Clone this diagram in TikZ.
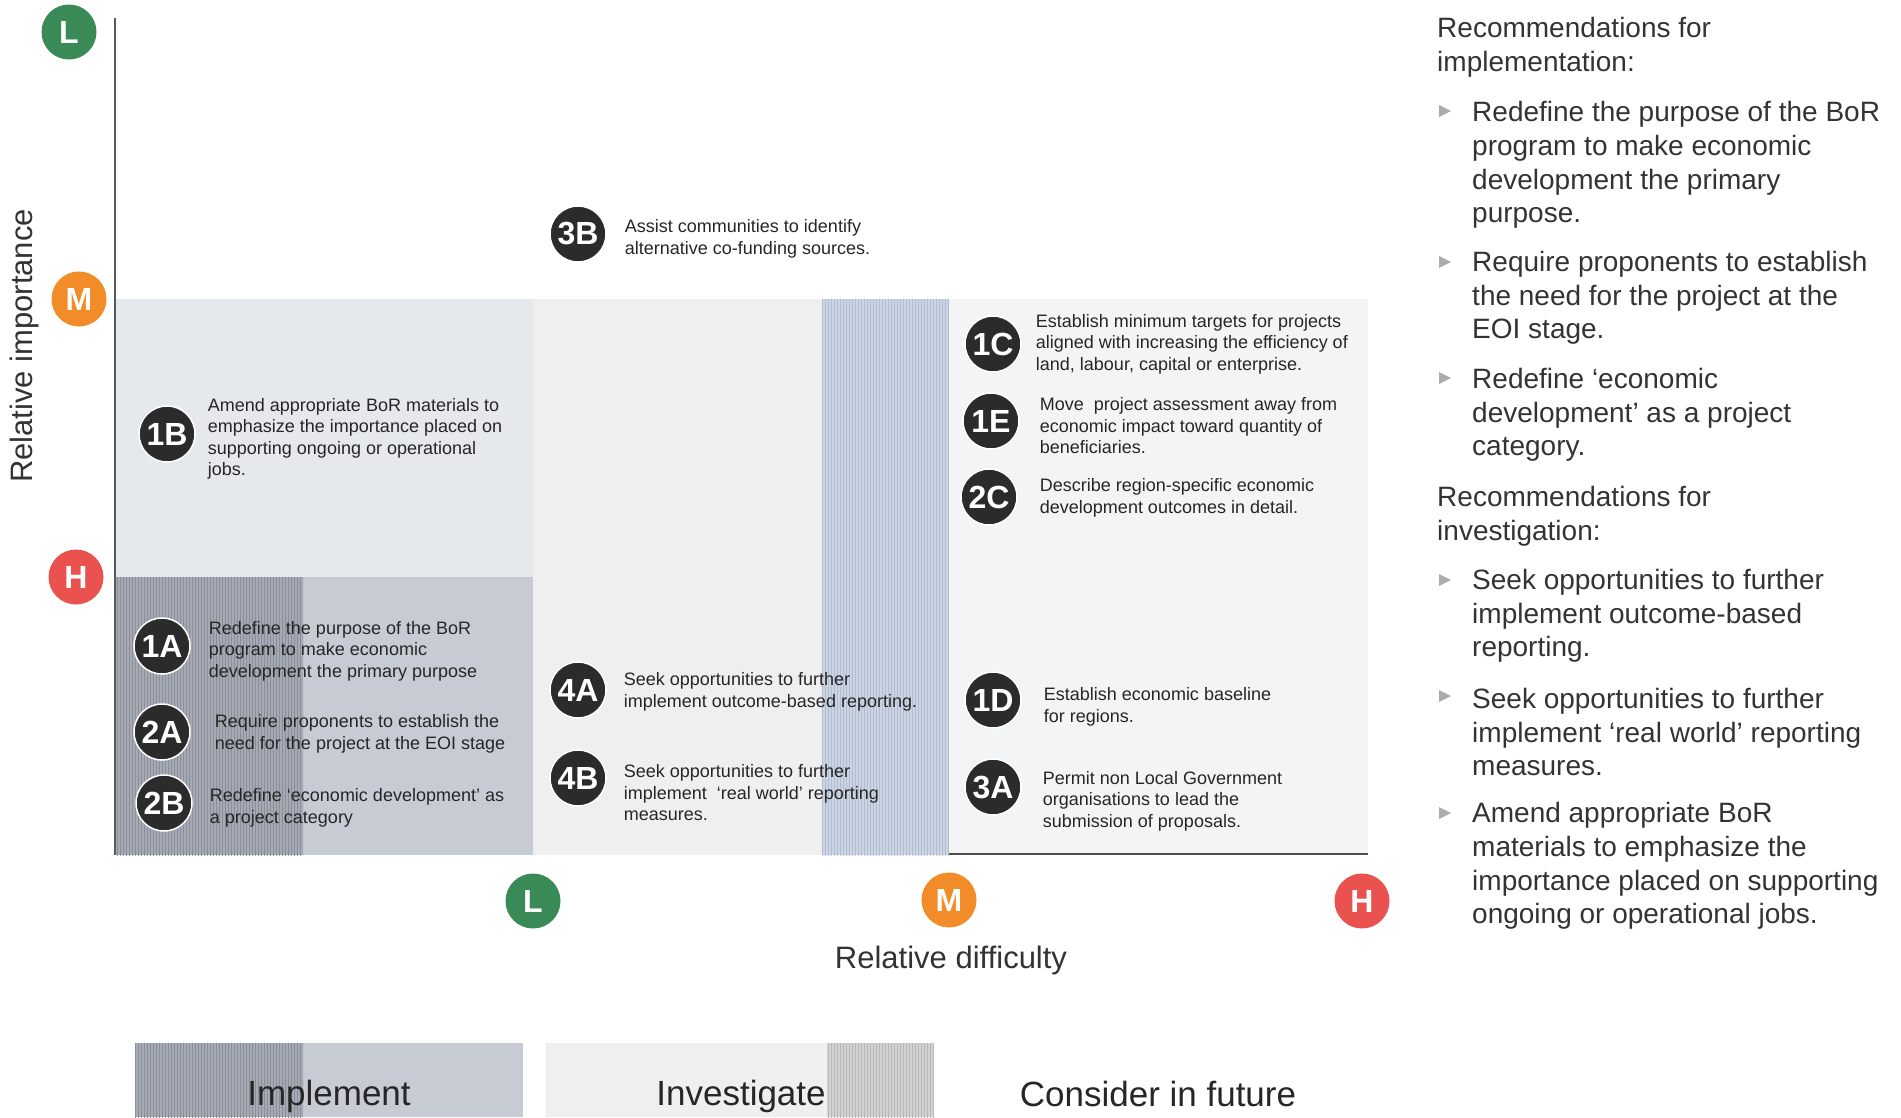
\documentclass[tikz,border=0pt]{standalone}
\usepackage{fontspec}
\setmainfont{Liberation Sans}
\usetikzlibrary{positioning, patterns}

\definecolor{lowgreen}{HTML}{3A8A57}
\definecolor{midorange}{HTML}{F28C28}
\definecolor{highred}{HTML}{E9524F}
\definecolor{badgegrey}{HTML}{2B2B2B}
\definecolor{implfill}{HTML}{C7CBD4}
\definecolor{implhatch}{HTML}{A6AAB5}
\definecolor{hatchline}{HTML}{8A8E99}
\definecolor{softblue}{HTML}{E5E8ED}
\definecolor{investfill}{HTML}{EFEFF0}
\definecolor{stripblue}{HTML}{CBD4E3}
\definecolor{stripline}{HTML}{B3BDCF}
\definecolor{futurefill}{HTML}{F3F4F6}
\definecolor{inkgrey}{HTML}{333333}

\tikzstyle{rating} = [circle, minimum size=55pt, inner sep=0pt, text=white, font=\fontsize{32}{32}\selectfont\bfseries]
\tikzstyle{badge} = [circle, draw=white, line width=1.5pt, fill=badgegrey, minimum size=56pt, inner sep=0pt, text=white, font=\fontsize{32}{32}\selectfont\bfseries]
\tikzstyle{itemtext} = [inner sep=0pt, align=left, text=black!85, yshift=-5pt, font=\fontsize{18}{21.5}\selectfont]
\tikzstyle{axislabel} = [inner sep=0pt, text=inkgrey, font=\fontsize{31}{31}\selectfont]
\tikzstyle{legendtext} = [inner sep=0pt, text=black!85, font=\fontsize{35}{35}\selectfont]
\tikzstyle{note} = [inner sep=0pt, anchor=west, align=left, text=inkgrey, yshift=-3pt, font=\fontsize{28}{33.6}\selectfont]
\tikzstyle{pointer} = [fill=gray!65]

\begin{document}
\begin{tikzpicture}[x=1pt, y=-1pt]
\useasboundingbox (0,0) rectangle (1901,1117);

% fields of the matrix
\fill[softblue] (115,299) rectangle (533,577);
\fill[implfill] (115,577) rectangle (533,855);
\fill[implhatch] (115,577) rectangle (303,855);
\fill[pattern=vertical lines, pattern color=hatchline] (115,577) rectangle (303,855);
\fill[investfill] (533,299) rectangle (822,855);
\fill[stripblue] (822,299) rectangle (949,855);
\fill[pattern=vertical lines, pattern color=stripline] (822,299) rectangle (949,855);
\fill[futurefill] (949,299) rectangle (1368,855);
\draw[gray!60!black, line width=1.5pt] (949,854) -- (1368,854);

% axes
\draw[gray!70!black, line width=1.5pt] (115,18) -- (115,855);
\node (vL) [rating, fill=lowgreen] at (69,32) {L};
\node (vM) [rating, fill=midorange] at (79,299) {M};
\node (vH) [rating, fill=highred] at (76,577) {H};
\node (hL) [rating, fill=lowgreen] at (533,901) {L};
\node (hM) [rating, fill=midorange] at (949,900) {M};
\node (hH) [rating, fill=highred] at (1362,901) {H};
\node (xlabel) [axislabel] at (951,960) {Relative difficulty};
\node (ylabel) [axislabel, rotate=90] at (24,346) {Relative importance};

% recommendations
\node (b3B) [badge] at (578,234) {3B};
\node (t3B) [itemtext, right=18pt of b3B] {Assist communities to identify\\alternative co-funding sources.};
\node (b1B) [badge] at (167,434) {1B};
\node (t1B) [itemtext, right=12pt of b1B] {Amend appropriate BoR materials to\\emphasize the importance placed on\\supporting ongoing or operational\\jobs.};
\node (b1A) [badge] at (162,646) {1A};
\node (t1A) [itemtext, right=18pt of b1A] {Redefine the purpose of the BoR\\program to make economic\\development the primary purpose};
\node (b2A) [badge] at (162,732) {2A};
\node (t2A) [itemtext, right=24pt of b2A, yshift=3pt] {Require proponents to establish the\\need for the project at the EOI stage};
\node (b2B) [badge] at (164,803) {2B};
\node (t2B) [itemtext, right=17pt of b2B] {Redefine `economic development' as\\a project category};
\node (b4A) [badge] at (578,690) {4A};
\node (t4A) [itemtext, right=17pt of b4A, yshift=3pt] {Seek opportunities to further\\implement outcome-based reporting.};
\node (b4B) [badge] at (578,778) {4B};
\node (t4B) [itemtext, right=17pt of b4B, yshift=-10pt] {Seek opportunities to further\\implement \ `real world' reporting\\measures.};
\node (b1C) [badge] at (993,344) {1C};
\node (t1C) [itemtext, right=14pt of b1C, yshift=5pt] {Establish minimum targets for projects\\aligned with increasing the efficiency of\\land, labour, capital or enterprise.};
\node (b1E) [badge] at (991,421) {1E};
\node (t1E) [itemtext, right=20pt of b1E] {Move \ project assessment away from\\economic impact toward quantity of\\beneficiaries.};
\node (b2C) [badge] at (989,497) {2C};
\node (t2C) [itemtext, right=22pt of b2C, yshift=4pt] {Describe region-specific economic\\development outcomes in detail.};
\node (b1D) [badge] at (993,700) {1D};
\node (t1D) [itemtext, right=22pt of b1D, yshift=-2pt] {Establish economic baseline\\for regions.};
\node (b3A) [badge] at (993,787) {3A};
\node (t3A) [itemtext, right=21pt of b3A, yshift=-9pt] {Permit non Local Government\\organisations to lead the\\submission of proposals.};

% key along the bottom
\fill[implfill] (135,1043) rectangle (523,1117);
\fill[implhatch] (135,1043) rectangle (303,1117);
\fill[pattern=vertical lines, pattern color=hatchline] (135,1043) rectangle (303,1117);
\fill[investfill] (546,1043) rectangle (934,1117);
\fill[gray!35] (827,1043) rectangle (934,1117);
\fill[pattern=vertical lines, pattern color=gray!55] (827,1043) rectangle (934,1117);
\node (impl) [legendtext] at (329,1096) {Implement};
\node (inv) [legendtext] at (741,1096) {Investigate};
\node (fut) [legendtext] at (1158,1094) {Consider in future};

% summary list
\node (head1) [note] at (1437,44) {Recommendations for\\implementation:};
\node (rec1) [note] at (1472,162) {Redefine the purpose of the BoR\\program to make economic\\development the primary\\purpose.};
\node (rec2) [note] at (1472,295) {Require proponents to establish\\the need for the project at the\\EOI stage.};
\node (rec3) [note] at (1472,412) {Redefine `economic\\development' as a project\\category.};
\node (head2) [note] at (1437,513) {Recommendations for\\investigation:};
\node (rec4) [note] at (1472,613) {Seek opportunities to further\\implement outcome-based\\reporting.};
\node (rec5) [note] at (1472,729) {Seek opportunities to further\\implement `real world' reporting\\measures.};
\node (rec6) [note] at (1472,863) {Amend appropriate BoR\\materials to emphasize the\\importance placed on supporting\\ongoing or operational jobs.};
\foreach \y in {111,262,378,580,696,813}
  \fill[pointer] (1439,\y-6) -- ++(12,6) -- ++(-12,6) -- cycle;

\end{tikzpicture}
\end{document}
